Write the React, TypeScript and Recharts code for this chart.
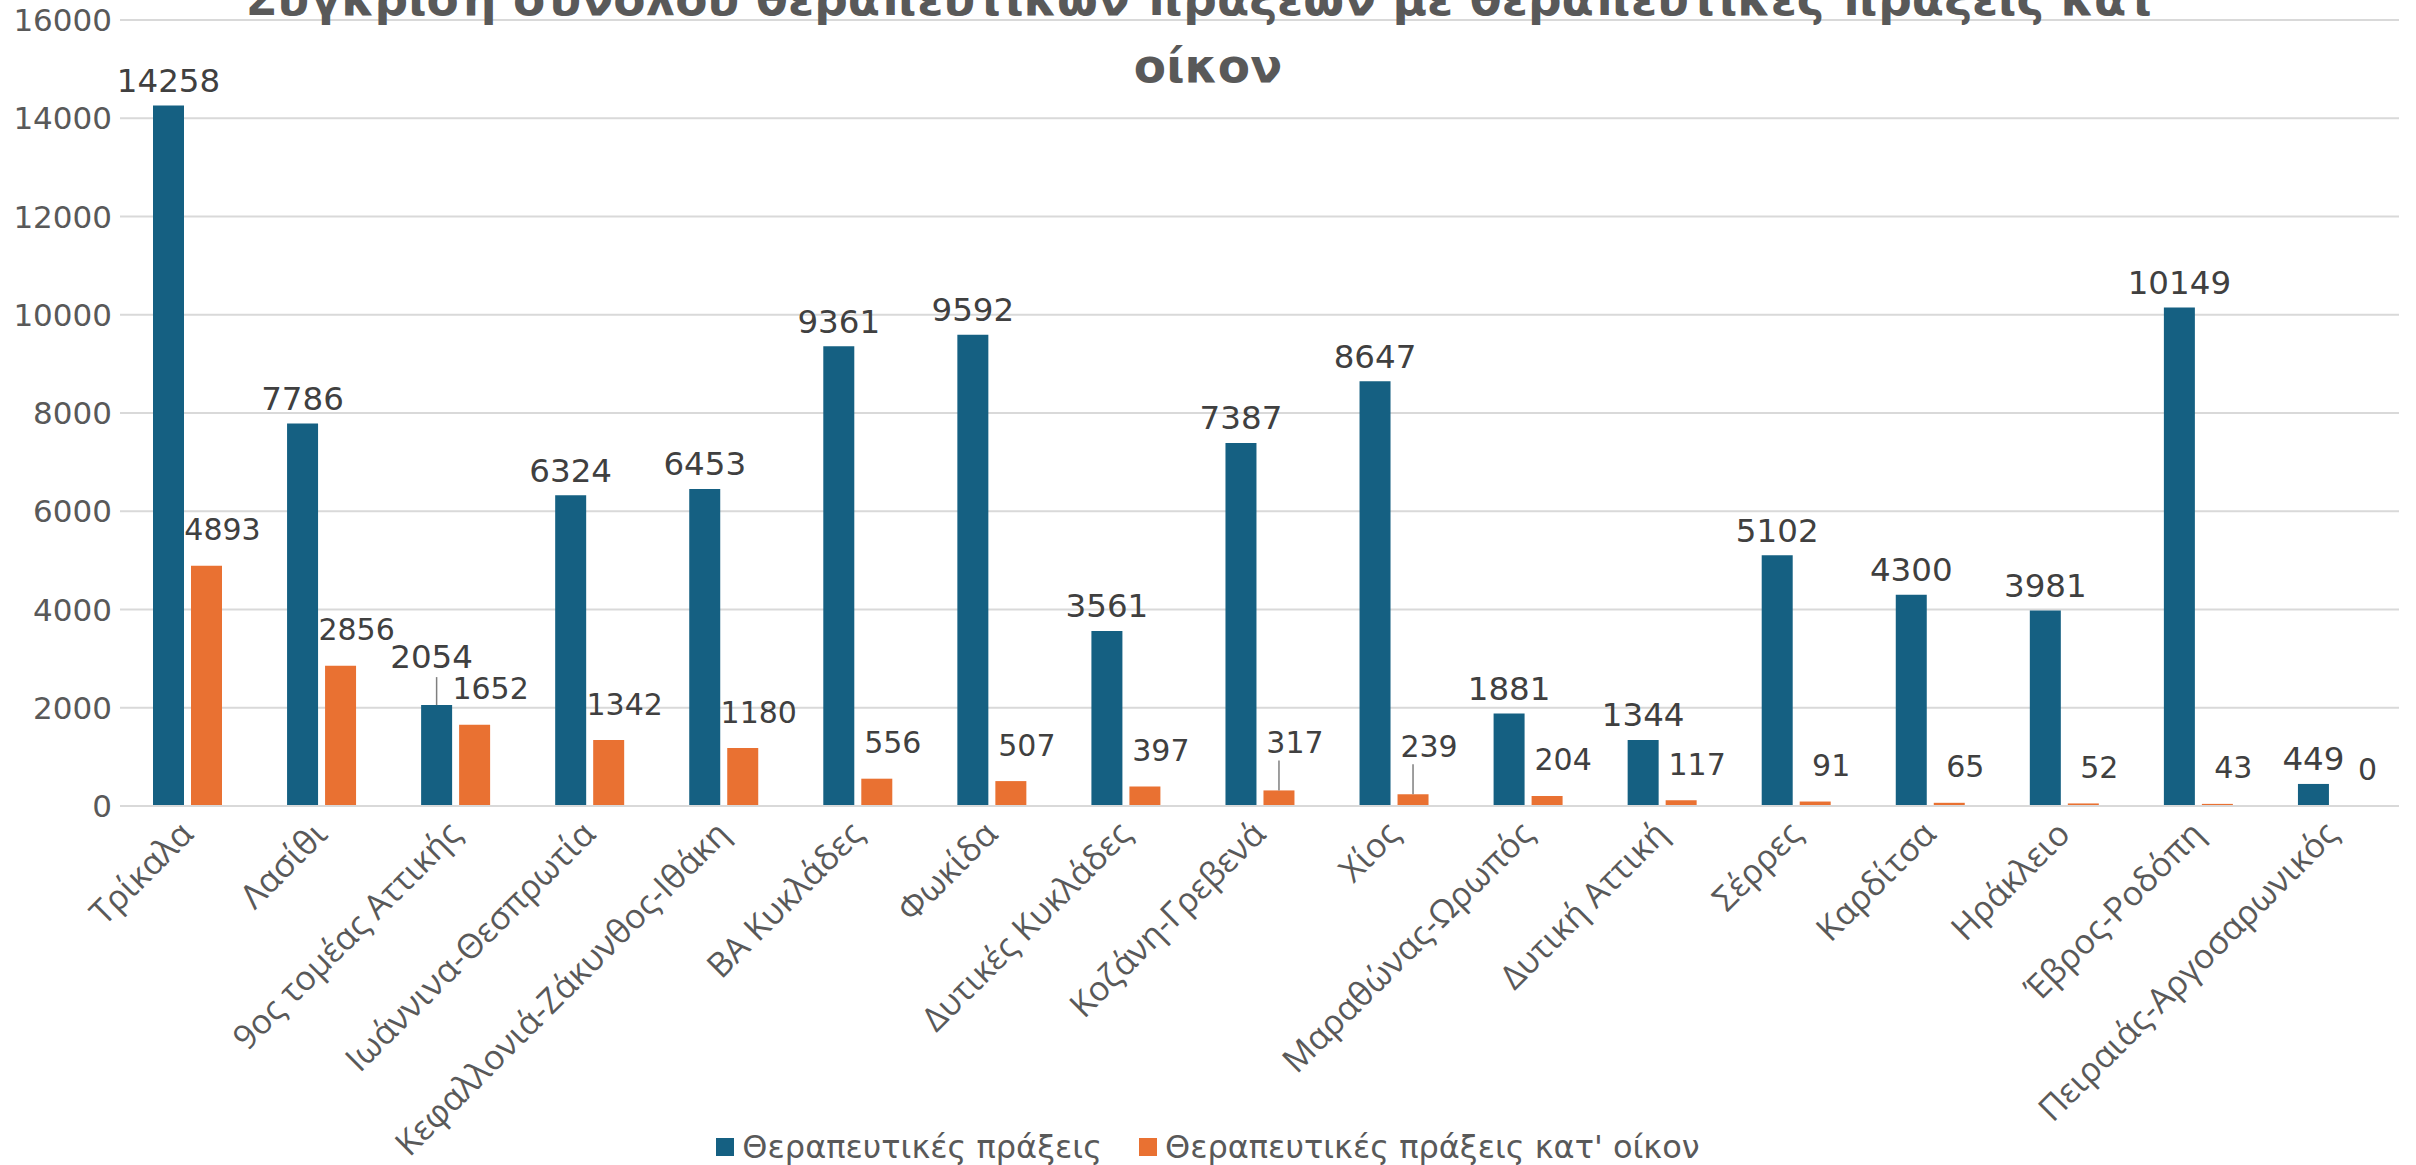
import { BarChart, Bar, XAxis, YAxis, CartesianGrid, LabelList } from 'recharts';

const regions = [
  'Τρίκαλα',
  'Λασίθι',
  '9ος τομέας Αττικής',
  'Ιωάννινα-Θεσπρωτία',
  'Κεφαλλονιά-Ζάκυνθος-Ιθάκη',
  'ΒΑ Κυκλάδες',
  'Φωκίδα',
  'Δυτικές Κυκλάδες',
  'Κοζάνη-Γρεβενά',
  'Χίος',
  'Μαραθώνας-Ωρωπός',
  'Δυτική Αττική',
  'Σέρρες',
  'Καρδίτσα',
  'Ηράκλειο',
  'Έβρος-Ροδόπη',
  'Πειραιάς-Αργοσαρωνικός',
];
const totalActs = [14258, 7786, 2054, 6324, 6453, 9361, 9592, 3561, 7387, 8647, 1881, 1344, 5102, 4300, 3981, 10149, 449];
const homeActs = [4893, 2856, 1652, 1342, 1180, 556, 507, 397, 317, 239, 204, 117, 91, 65, 52, 43, 0];
const yTicks = [0, 2000, 4000, 6000, 8000, 10000, 12000, 14000, 16000];
const seriesNames = ['Θεραπευτικές πράξεις', "Θεραπευτικές πράξεις κατ' οίκον"];
const titleLines = ["Σύγκριση συνόλου θεραπευτικών πράξεων με θεραπευτικές πράξεις κατ'", 'οίκον'];

// labels that Excel pushed up and tied back to the bar with a leader line
const blueCallouts = ['9ος τομέας Αττικής'];
const orangeCallouts = ['Κοζάνη-Γρεβενά', 'Χίος'];

const BLUE = '#156082';
const ORANGE = '#E97132';
const FONT = "'DejaVu Sans', sans-serif";

const chartData = regions.map((region, i) => ({ region, total: totalActs[i], home: homeActs[i] }));

function readBox(props: any) {
  const vb = props.viewBox || {};
  return {
    x: props.x ?? vb.x,
    y: props.y ?? vb.y,
    width: props.width ?? vb.width,
    height: props.height ?? vb.height,
  };
}

const BlueLabel = (props: any) => {
  const { x, y, width } = readBox(props);
  const cx = x + width / 2;
  const callout = blueCallouts.includes(regions[props.index]);
  const cy = callout ? y - 48 : y - 25;
  return (
    <g>
      {callout && <line x1={cx} x2={cx} y1={y - 28} y2={y} stroke="#7f7f7f" strokeWidth={1.5} />}
      <text x={callout ? cx - 5 : cx} y={cy} dy="0.35em" textAnchor="middle" fill="#404040" fontSize={32.5} fontFamily={FONT}>
        {String(props.value)}
      </text>
    </g>
  );
};

const OrangeLabel = (props: any) => {
  const { x, y, width, height } = readBox(props);
  const cx = x + width / 2;
  const top = y + Math.min(height, 0);
  const callout = orangeCallouts.includes(regions[props.index]);
  const cy = callout ? top - 48 : top - 36;
  return (
    <g>
      {callout && <line x1={cx} x2={cx} y1={top - 30} y2={top} stroke="#7f7f7f" strokeWidth={1.5} />}
      <text x={cx + 16} y={cy} dy="0.35em" textAnchor="middle" fill="#404040" fontSize={30} fontFamily={FONT}>
        {String(props.value)}
      </text>
    </g>
  );
};

const RegionTick = (props: any) => {
  const { x, y, payload } = props;
  const ax = x + 8;
  const ay = y + 22;
  return (
    <text x={ax} y={ay} transform={`rotate(-45, ${ax}, ${ay})`} textAnchor="end" fill="#595959" fontSize={34} fontFamily="'Open Sans', sans-serif">
      {payload.value}
    </text>
  );
};

export default function App() {
  return (
    <div style={{ position: 'absolute', left: 0, top: 0, width: 2416, height: 1165, background: '#fff', overflow: 'hidden' }}>
      <div
        style={{
          position: 'absolute',
          left: 0,
          top: -35,
          width: 2416,
          textAlign: 'center',
          fontFamily: FONT,
          fontWeight: 'bold',
          fontSize: 47,
          lineHeight: '67px',
          color: '#595959',
          zIndex: 2,
        }}
      >
        {titleLines.map((line) => (
          <div key={line}>{line}</div>
        ))}
      </div>

      <BarChart
        width={2416}
        height={1165}
        data={chartData}
        margin={{ top: 20, right: 17, left: 0, bottom: 0 }}
        barSize={31}
        barGap={7}
      >
        <CartesianGrid vertical={false} stroke="#d9d9d9" strokeWidth={2} />
        <XAxis
          dataKey="region"
          interval={0}
          height={359}
          tickLine={false}
          axisLine={{ stroke: '#d9d9d9', strokeWidth: 2 }}
          tick={<RegionTick />}
        />
        <YAxis
          width={120}
          domain={[0, 16000]}
          ticks={yTicks}
          interval={0}
          axisLine={false}
          tickLine={false}
          tick={{ fill: '#595959', fontSize: 31, fontFamily: FONT }}
        />
        <Bar dataKey="total" name={seriesNames[0]} fill={BLUE} isAnimationActive={false}>
          <LabelList dataKey="total" content={<BlueLabel />} />
        </Bar>
        <Bar dataKey="home" name={seriesNames[1]} fill={ORANGE} minPointSize={1} isAnimationActive={false}>
          <LabelList dataKey="home" content={<OrangeLabel />} />
        </Bar>
      </BarChart>

      <div
        style={{
          position: 'absolute',
          left: 0,
          top: 1128,
          width: 2416,
          height: 38,
          display: 'flex',
          justifyContent: 'center',
          alignItems: 'center',
          gap: 37,
          fontFamily: FONT,
          fontSize: 32,
          color: '#595959',
        }}
      >
        {seriesNames.map((name, i) => (
          <div key={name} style={{ display: 'flex', alignItems: 'center', gap: 8 }}>
            <span style={{ display: 'inline-block', width: 18, height: 18, background: i === 0 ? BLUE : ORANGE }} />
            <span>{name}</span>
          </div>
        ))}
      </div>
    </div>
  );
}
